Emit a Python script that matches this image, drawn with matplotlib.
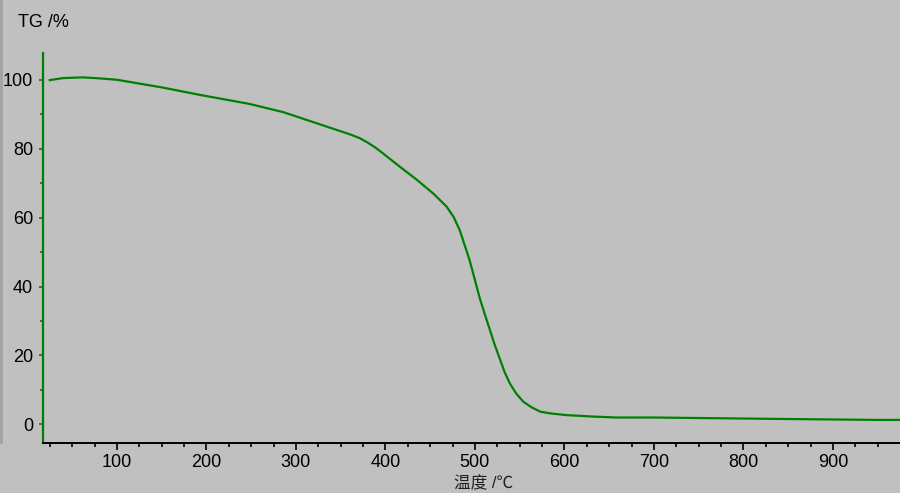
import numpy as np
import matplotlib
matplotlib.use("Agg")
import matplotlib.pyplot as plt
from matplotlib.patches import Rectangle

# temperature (°C) and TG (%)
temp = [25, 40, 62, 81, 100, 150, 193, 248, 286, 323, 360, 371, 380, 389,
        397, 416, 435, 453, 468, 476, 483, 494, 500, 505, 511, 517, 522, 528,
        533, 539, 546, 554, 563, 573, 584, 602, 630, 658, 700, 835, 950, 975]
tg = [99.9, 100.5, 100.7, 100.4, 100.0, 97.8, 95.6, 93.0, 90.6, 87.4, 84.2,
      83.1, 81.8, 80.3, 78.7, 74.8, 71.0, 67.1, 63.3, 60.3, 56.4, 47.7, 41.9,
      37.0, 32.0, 27.2, 23.2, 18.9, 15.3, 11.9, 9.0, 6.6, 5.0, 3.7, 3.2, 2.7,
      2.3, 2.0, 2.0, 1.6, 1.3, 1.3]

x_ticks = [100, 200, 300, 400, 500, 600, 700, 800, 900]
y_ticks = [0, 20, 40, 60, 80, 100]

bg = "#c0c0c0"
green = "#008000"
plt.rcParams["font.family"] = ["Liberation Sans", "Noto Sans CJK SC", "DejaVu Sans"]

fig = plt.figure(figsize=(9, 4.93), dpi=100, facecolor=bg)
ax = fig.add_axes([0.0474, 0.1014, 0.9526, 0.7906])
ax.set_facecolor(bg)

ax.plot(temp, tg, color=green, lw=1.6, solid_joinstyle="round")

ax.set_xlim(17, 975)
ax.set_ylim(-5.4, 107.7)
ax.set_xticks(x_ticks)
ax.set_xticks(np.arange(25, 975, 25), minor=True)
ax.set_yticks(y_ticks)
ax.set_yticks(np.arange(10, 101, 20), minor=True)

for s in ["top", "right"]:
    ax.spines[s].set_visible(False)
ax.spines["left"].set_color(green)
ax.spines["left"].set_linewidth(1.6)
ax.spines["bottom"].set_color("black")
ax.spines["bottom"].set_linewidth(1.4)

ax.tick_params(axis="x", which="major", length=5, width=1.2, colors="black",
               labelsize=13, pad=3)
ax.tick_params(axis="x", which="minor", length=3, width=1.2, colors="black")
ax.tick_params(axis="y", which="major", length=3, width=1.2, color=green,
               labelcolor="black", labelsize=13, pad=4)
ax.tick_params(axis="y", which="minor", length=2, width=1.2, color=green)

fig.text(0.02, 0.955, "TG /%", fontsize=13, ha="left", va="center")
fig.text(0.537, 0.019, "温度 /℃", fontsize=12, ha="center", va="center",
         color="#202020")

# darker strip along the left edge of the window
fig.patches.append(Rectangle((0, 0.1), 0.0035, 0.9, transform=fig.transFigure,
                             facecolor="#a4a4a4", edgecolor="none"))

fig.savefig("out.png", dpi=100, facecolor=bg)
